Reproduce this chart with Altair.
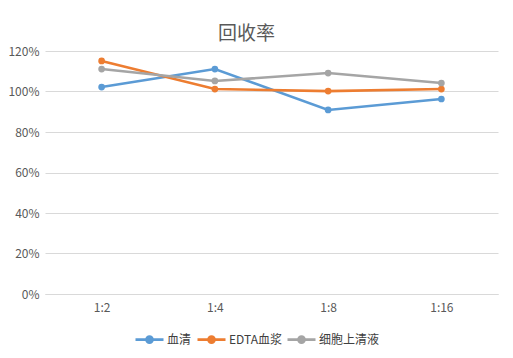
import altair as alt
import pandas as pd

categories = ["1:2", "1:4", "1:8", "1:16"]
series_names = ["血清", "EDTA血浆", "细胞上清液"]
serum = [1.022, 1.111, 0.909, 0.963]
edta = [1.151, 1.012, 1.002, 1.012]
cell = [1.111, 1.052, 1.091, 1.042]
colors = ["#5B9BD5", "#ED7D31", "#A5A5A5"]
y_ticks = [0, 0.2, 0.4, 0.6, 0.8, 1.0, 1.2]

rows = []
for name, vals in zip(series_names, [serum, edta, cell]):
    for c, v in zip(categories, vals):
        rows.append({"稀释": c, "回收率": v, "样本": name})
df = pd.DataFrame(rows)

symbol_path = ("M-1,0L1,0 M-0.22,0 A0.22,0.22 0 1,1 0.22,0 A0.22,0.22 0 1,1 -0.22,0 Z")

chart = alt.Chart(df).mark_line(
    strokeWidth=2.6,
    point=alt.OverlayMarkDef(size=45, filled=True, opacity=1),
).encode(
    x=alt.X("稀释:N", sort=categories, title=None,
            scale=alt.Scale(paddingInner=0, paddingOuter=0.5),
            axis=alt.Axis(labelAngle=0, ticks=False, domain=True, domainColor="#D9D9D9",
                          grid=False, labelPadding=8, labelFontSize=12, labelColor="#595959",
                          labelFont="Noto Sans CJK SC")),
    y=alt.Y("回收率:Q", title=None,
            scale=alt.Scale(domain=[0, 1.2], nice=False),
            axis=alt.Axis(values=y_ticks, format=".0%", ticks=False, domain=False,
                          gridColor="#D9D9D9", labelPadding=6, labelFontSize=12,
                          labelColor="#595959", labelFont="Noto Sans CJK SC")),
    color=alt.Color("样本:N", sort=series_names,
                    scale=alt.Scale(domain=series_names, range=colors),
                    legend=alt.Legend(orient="none", legendX=89, legendY=273,
                                      direction="horizontal", title=None,
                                      symbolType=symbol_path, symbolSize=784,
                                      symbolStrokeWidth=2.6, labelFontSize=12,
                                      labelColor="#404040", labelFont="Noto Sans CJK SC",
                                      columnPadding=0, labelOffset=2)),
    order=alt.Order("样本:N"),
).properties(
    width=453, height=243,
    title=alt.TitleParams("回收率", fontSize=19, fontWeight="normal", color="#595959",
                          font="Noto Sans CJK SC", dx=-25, offset=1),
    autosize=alt.AutoSizeParams(type="none"),
    padding={"left": 37, "top": 43, "right": 7, "bottom": 56},
).configure(background="white", view=alt.ViewConfig(stroke="transparent", strokeWidth=0))

chart.save("out.html", embed_options={"renderer": "svg", "actions": False})
